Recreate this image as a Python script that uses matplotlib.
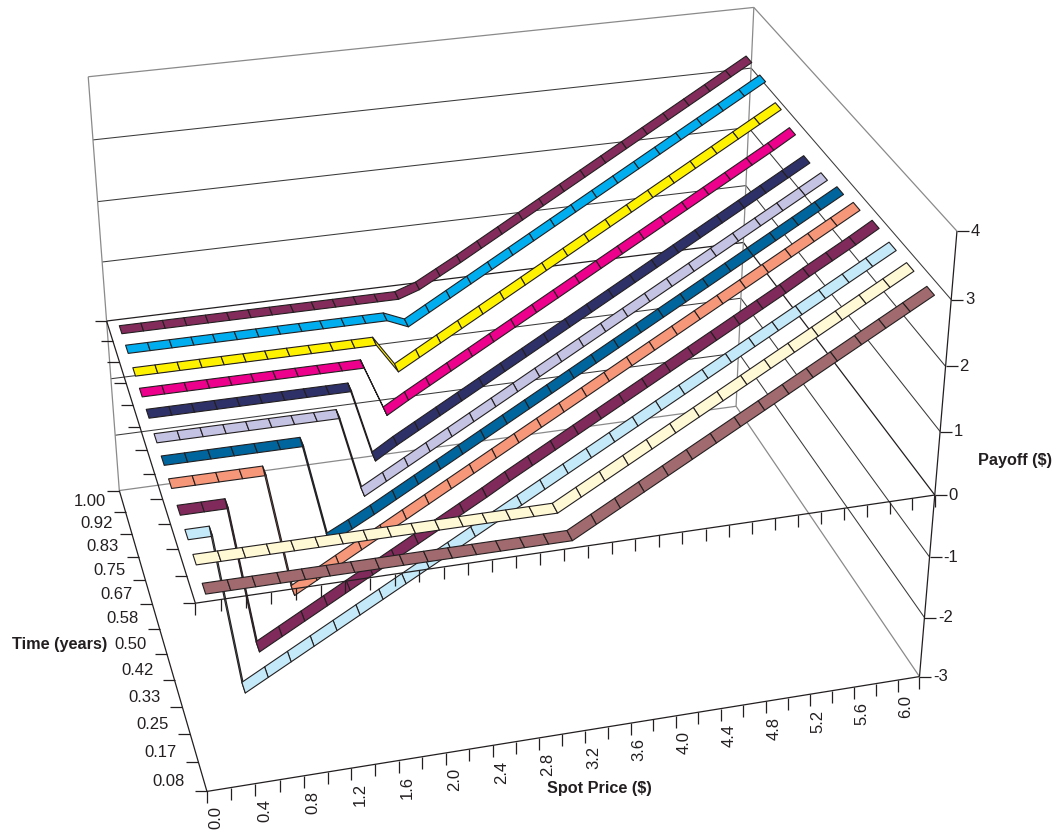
import numpy as np
import matplotlib
matplotlib.use("Agg")
import matplotlib.pyplot as plt
from matplotlib.lines import Line2D
from mpl_toolkits.mplot3d.art3d import Poly3DCollection

plt.rcParams['font.family'] = ['Liberation Sans', 'DejaVu Sans']

spot_price = [round(0.2 * i, 1) for i in range(31)]
time_years = [1.00, 0.92, 0.83, 0.75, 0.67, 0.58, 0.50, 0.42, 0.33, 0.25, 0.17, 0.08]
payoff_ticks = [-3, -2, -1, 0, 1, 2, 3, 4]
colors = ['#832C5C', '#00AEEF', '#FFF200', '#EC008C', '#2E3068', '#C5C3E3',
          '#00659C', '#F7977A', '#7F2A5A', '#C4E9F9', '#FFF9D6', '#A06A6E']

p100 = [0,0,0,0,0,0,0,0,0,0,0,0,0,0,0.12,0.31,0.5,0.7,0.9,1.1,1.3,1.5,1.7,1.9,2.1,2.3,2.5,2.7,2.9,3.1,3.3]
p092 = [0,0,0,0,0,0,0,0,0,0,0,0,0,-0.15,0.05,0.25,0.45,0.65,0.85,1.05,1.25,1.45,1.65,1.85,2.05,2.25,2.45,2.65,2.85,3.05,3.25]
p083 = [0,0,0,0,0,0,0,0,0,0,0,0,-0.5,-0.3,-0.1,0.1,0.3,0.5,0.7,0.9,1.1,1.3,1.5,1.7,1.9,2.1,2.3,2.5,2.7,2.9,3.1]
p075 = [0,0,0,0,0,0,0,0,0,0,0,-0.85,-0.64,-0.44,-0.24,-0.04,0.16,0.36,0.56,0.76,0.96,1.16,1.36,1.56,1.76,1.96,2.16,2.36,2.56,2.76,2.97]
p067 = [0,0,0,0,0,0,0,0,0,0,-1.22,-1.0,-0.8,-0.6,-0.4,-0.2,0,0.2,0.4,0.6,0.8,1.0,1.2,1.4,1.6,1.8,2.0,2.2,2.4,2.6,2.8]
p058 = [0,0,0,0,0,0,0,0,0,-1.35,-1.15,-0.95,-0.75,-0.55,-0.35,-0.15,0.05,0.25,0.45,0.65,0.85,1.05,1.25,1.45,1.65,1.85,2.05,2.25,2.45,2.65,2.85]
p050 = [0,0,0,0,0,0,0,-1.65,-1.47,-1.28,-1.08,-0.88,-0.68,-0.48,-0.28,-0.08,0.12,0.32,0.52,0.72,0.92,1.12,1.32,1.52,1.72,1.92,2.12,2.32,2.52,2.72,2.92]
p042 = [0,0,0,0,0,-2.03,-1.83,-1.63,-1.43,-1.23,-1.03,-0.83,-0.63,-0.43,-0.23,-0.03,0.17,0.37,0.57,0.77,0.97,1.17,1.37,1.57,1.77,1.97,2.17,2.37,2.57,2.77,2.97]
p033 = [0,0,0,-2.4,-2.2,-2.0,-1.8,-1.6,-1.4,-1.2,-1.0,-0.8,-0.6,-0.4,-0.19,0.01,0.21,0.41,0.61,0.81,1.01,1.21,1.41,1.61,1.81,2.01,2.21,2.42,2.62,2.82,3.03]
p025 = [0,0,-2.6,-2.4,-2.2,-2.0,-1.8,-1.6,-1.4,-1.2,-1.0,-0.8,-0.6,-0.4,-0.2,0,0.2,0.4,0.6,0.8,1.0,1.2,1.4,1.6,1.8,2.0,2.2,2.4,2.6,2.8,3.0]
p017 = [0,0,0,0,0,0,0,0,0,0,0,0,0,0,0,0,0.2,0.4,0.6,0.8,1.0,1.2,1.4,1.6,1.8,2.0,2.2,2.4,2.6,2.8,3.0]
p008 = [0,0,0,0,0,0,0,0,0,0,0,0,0,0,0,0,0.2,0.4,0.6,0.8,1.0,1.2,1.4,1.6,1.8,2.0,2.2,2.4,2.6,2.8,3.0]
series = [p100, p092, p083, p075, p067, p058, p050, p042, p033, p025, p017, p008]

# box limits: one bin per category
S0, S1 = -0.1, 6.1
T0, T1 = 1/24, 25/24

# camera calibration: box points and where they fall in the picture
calib = [((S0,T0,-3),(206.7,791.7)), ((S1,T0,-3),(919.3,676.7)), ((S1,T0,4),(956.7,230.7)),
         ((S1,T0,0),(935,495)), ((S1,T1,4),(754,7.3)), ((S0,T1,4),(88,77)),
         ((S0,T1,-3),(119.3,490)), ((S1,T1,-3),(736,406.7)), ((S0,T0,0),(195.7,603.3)),
         ((S0,T1,0),(106.7,321)), ((S1,T0,3),(950.7,300)), ((S1,T0,1),(940.7,431.7)),
         ((S1,T0,-1),(930,556.7)), ((S1,T0,-2),(924,617.3))]
A = []
b = []
for (x, y, z), (u, v) in calib:
    A.append([x, y, z, 1, 0, 0, 0, 0, -u*x, -u*y, -u*z]); b.append(u)
    A.append([0, 0, 0, 0, x, y, z, 1, -v*x, -v*y, -v*z]); b.append(v)
c = np.linalg.lstsq(np.array(A), np.array(b), rcond=None)[0]
CAM = np.array([c[:4], c[4:8], c[8:11].tolist() + [1.0]])
M = np.array([CAM[0], CAM[1], [0, 1, 0, 0], CAM[2]])

def px(x, y, z):
    h = CAM @ np.array([x, y, z, 1.0])
    return h[0]/h[2], h[1]/h[2]

W, H = 1055, 831
fig = plt.figure(figsize=(W/100, H/100), dpi=100)
ax = fig.add_axes([0, 0, 1, 1], projection='3d')
ax.get_proj = lambda: M
ax.apply_aspect = lambda position=None: None
ax.viewLim.intervalx = (0, W)
ax.viewLim.intervaly = (H, 0)
ax.set_axis_off()
ax.computed_zorder = False
INK = '#231F20'
GREY = '#8A8A8A'

def seg(points, color, lw, z):
    for a, b_ in points:
        ax.add_artist(Line2D([a[0], b_[0]], [a[1], b_[1]], color=color, lw=lw, zorder=z,
                             solid_capstyle='butt'))

# walls
for p in payoff_ticks:
    back = [px(S0, T1, p), px(S1, T1, p)]
    side = [px(S1, T1, p), px(S1, T0, p)]
    if p in (-3, 4):
        seg([back, side], GREY, 0.9, 1)
    elif p == 0:
        seg([back, side], INK, 0.9, 1)
    else:
        seg([back, side], '#3A3A3A', 0.75, 1)
seg([[px(S0, T1, -3), px(S0, T1, 4)], [px(S1, T1, -3), px(S1, T1, 4)]], GREY, 0.9, 1)

# ribbons
width = 0.0165
S = np.array(spot_price)
for k, (t, vals, col) in enumerate(zip(time_years, series, colors)):
    v = np.array(vals, dtype=float)
    polys = [[(S[i], t - width, v[i]), (S[i+1], t - width, v[i+1]),
              (S[i+1], t + width, v[i+1]), (S[i], t + width, v[i])] for i in range(len(S)-1)]
    pc = Poly3DCollection(polys, facecolors=col, edgecolors=INK, linewidths=0.8, zorder=2+k)
    ax.add_collection3d(pc, autolim=False)

# axes
TL = 12
lines = [[px(S0, T1, 0), px(S0, T0, 0)], [px(S0, T0, 0), px(S1, T0, 0)],
         [px(S0, T1, -3), px(S0, T0, -3)], [px(S0, T0, -3), px(S1, T0, -3)],
         [px(S1, T0, -3), px(S1, T0, 4)]]
for i in range(32):
    s = S0 + 0.2*i
    for p in (0, -3):
        x, y = px(s, T0, p)
        lines.append([(x, y), (x, y + TL)])
for i in range(13):
    t = T0 + i/12
    for p in (0, -3):
        x, y = px(S0, t, p)
        lines.append([(x, y), (x - TL, y)])
for p in payoff_ticks:
    x, y = px(S1, T0, p)
    lines.append([(x, y), (x + TL, y)])
seg(lines, INK, 0.9, 30)

FS = 12
for i in range(0, 31, 2):
    x, y = px(spot_price[i], T0, -3)
    ax.text2D(x - 3, y + 17, f'{spot_price[i]:.1f}', transform=ax.transData, rotation=90,
              ha='center', va='top', fontsize=FS, color=INK)
for i, t in enumerate(time_years):
    tc = T0 + (len(time_years) - 0.5 - i)/12
    x, y = px(S0, tc, -3)
    ax.text2D(x - 16 - 2*i/11, y + 5*i/11, f'{t:.2f}', transform=ax.transData, ha='right', va='center',
              fontsize=FS, color=INK)
for p in payoff_ticks:
    x, y = px(S1, T0, p)
    ax.text2D(x + 14, y, str(p), transform=ax.transData, ha='left', va='center',
              fontsize=FS, color=INK)
for txt, x, y in [('Time (years)', 12, 644.5), ('Payoff ($)', 978, 461), ('Spot Price ($)', 547, 788.5)]:
    ax.text2D(x, y, txt, transform=ax.transData, ha='left', va='center', fontsize=11.7,
              fontweight='bold', color=INK)

fig.savefig('out.png', dpi=100, facecolor='white')
